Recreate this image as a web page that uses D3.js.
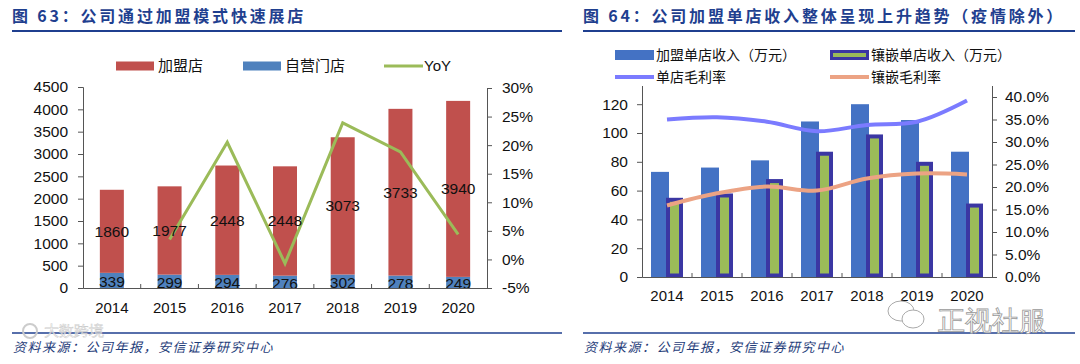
<!DOCTYPE html>
<html><head><meta charset="utf-8">
<script src="https://cdn.jsdelivr.net/npm/d3@7"></script>
<style>
body{margin:0;background:#fff}
svg{display:block}
text{font-family:"Liberation Sans",Arial,sans-serif}
.cjk{font-family:"Noto Sans CJK SC","Noto Sans",sans-serif}
</style>
</head><body><svg id="c" width="1080" height="364"></svg>
<script>
// ---------- data: left chart ----------
const years = ["2014","2015","2016","2017","2018","2019","2020"];
const franchiseStores = [1860,1977,2448,2448,3073,3733,3940];
const ownStores = [339,299,294,276,302,278,249];
const storeYoY = [null,3.5,20.5,-0.7,23.9,18.8,4.4];
const storeTicks = [0,500,1000,1500,2000,2500,3000,3500,4000,4500];
const yoyTicks = [-5,0,5,10,15,20,25,30];
const leftLegend = ["加盟店","自营门店","YoY"];

// ---------- data: right chart ----------
const franchiseRevenue = [73,76,81,108,120,109,87];
const inlayRevenue = [55,58,68,87,99,80,51];
const storeMargin = [35.0,35.5,34.5,32.4,33.8,34.5,39.2];
const inlayMargin = [15.9,18.6,20.1,19.2,21.9,23.0,22.8];
const revenueTicks = [0,20,40,60,80,100,120,140];
const marginTicks = [0,5,10,15,20,25,30,35,40,45];
const rightLegend = ["加盟单店收入（万元）","镶嵌单店收入（万元）","单店毛利率","镶嵌毛利率"];

const titleLeft = "图 63：公司通过加盟模式快速展店";
const titleRight = "图 64：公司加盟单店收入整体呈现上升趋势（疫情除外）";
const source = "资料来源：公司年报，安信证券研究中心";

const C = {red:"#c0504d", blue:"#4f81bd", green:"#9bbb59", navy:"#1f3f8f",
  bar2:"#4472c4", border:"#3b37a3", lav:"#7b7bff", salmon:"#eca384", axis:"#555"};

const svg = d3.select("#c");

function header(x, x2, t){
  svg.append("text").attr("class","cjk").attr("x",x).attr("y",22)
    .attr("font-size",16).attr("font-weight","bold").attr("letter-spacing",2.8)
    .attr("fill",C.navy).text(t);
  svg.append("line").attr("x1",x).attr("x2",x2).attr("y1",31).attr("y2",31)
    .attr("stroke",C.navy).attr("stroke-width",2);
  svg.append("line").attr("x1",x).attr("x2",x2).attr("y1",333).attr("y2",333)
    .attr("stroke",C.navy).attr("stroke-width",1.5);
  svg.append("text").attr("class","cjk").attr("x",x+1).attr("y",352)
    .attr("font-size",13).attr("font-style","italic").attr("letter-spacing",1.5)
    .attr("fill","#1f3d7a").text(source);
}
header(12, 562, titleLeft);
header(583, 1075, titleRight);

function styleAxis(g, size){
  g.select(".domain").attr("stroke",C.axis);
  g.selectAll(".tick line").attr("stroke",C.axis);
  g.selectAll("text").attr("font-size",size).attr("fill","#111")
    .attr("font-family","'Liberation Sans',Arial,sans-serif");
}

// ================= LEFT CHART =================
{
  const x = d3.scaleBand().domain(years).range([83,487]);
  const y = d3.scaleLinear().domain([0,4500]).range([288,87]);
  const yr = d3.scaleLinear().domain([-5,30]).range([288,88]);
  const bw = 24;

  const g = svg.append("g");
  years.forEach((yr_,i)=>{
    const cx = x(yr_) + x.bandwidth()/2;
    g.append("rect").attr("x",cx-bw/2).attr("width",bw)
      .attr("y",y(ownStores[i])).attr("height",y(0)-y(ownStores[i])).attr("fill",C.blue);
    g.append("rect").attr("x",cx-bw/2).attr("width",bw)
      .attr("y",y(ownStores[i]+franchiseStores[i]))
      .attr("height",y(ownStores[i])-y(ownStores[i]+franchiseStores[i])).attr("fill",C.red);
  });

  const ax = svg.append("g").attr("transform","translate(83,0)")
    .call(d3.axisLeft(y).tickValues(storeTicks).tickSize(5).tickPadding(10).tickFormat(d3.format("d")));
  styleAxis(ax,15.5);
  const axr = svg.append("g").attr("transform","translate(487,0)")
    .call(d3.axisRight(yr).tickValues(yoyTicks).tickSize(5).tickPadding(10).tickFormat(d=>d+"%"));
  styleAxis(axr,15.5);
  const axb = svg.append("g").attr("transform","translate(0,288)")
    .call(d3.axisBottom(x).tickSize(0).tickPadding(14).tickSizeOuter(0));
  styleAxis(axb,15);
  axb.selectAll(".bt").data(years.slice(1)).enter().append("line")
    .attr("x1",d=>x(d)).attr("x2",d=>x(d)).attr("y1",0).attr("y2",-4).attr("stroke",C.axis);

  const line = d3.line().defined(d=>d[1]!=null)
    .x(d=>x(d[0])+x.bandwidth()/2).y(d=>yr(d[1]));
  g.append("path").datum(years.map((d,i)=>[d,storeYoY[i]]))
    .attr("d",line).attr("fill","none").attr("stroke",C.green).attr("stroke-width",3);

  years.forEach((yr_,i)=>{
    const cx = x(yr_) + x.bandwidth()/2;
    g.append("text").attr("x",cx).attr("y",y(ownStores[i]+franchiseStores[i]/2)).attr("dy","0.35em")
      .attr("text-anchor","middle").attr("font-size",15.5).attr("fill","#111").text(franchiseStores[i]);
    g.append("text").attr("x",cx).attr("y",y(ownStores[i]/2)+1.5).attr("dy","0.35em")
      .attr("text-anchor","middle").attr("font-size",15.5).attr("fill","#111").text(ownStores[i]);
  });

  const lg = svg.append("g").attr("transform","translate(0,66)");
  const items = [{x:116,c:C.red,t:"rect"},{x:243,c:C.blue,t:"rect"},{x:384,c:C.green,t:"line"}];
  items.forEach((it,i)=>{
    if(it.t==="rect") lg.append("rect").attr("x",it.x).attr("y",-4.5).attr("width",38).attr("height",9).attr("fill",it.c);
    else lg.append("line").attr("x1",it.x).attr("x2",it.x+39).attr("y1",0).attr("y2",0).attr("stroke",it.c).attr("stroke-width",3);
    lg.append("text").attr("class",i<2?"cjk":"").attr("x",it.x+(it.t==="rect"?42:40)).attr("y",0).attr("dy","0.36em")
      .attr("font-size",15).attr("fill","#111").text(leftLegend[i]);
  });
}

// ================= RIGHT CHART =================
{
  const x = d3.scaleBand().domain(years).range([642,992]);
  const y = d3.scaleLinear().domain([0,140]).range([277,75.4]);
  const yr = d3.scaleLinear().domain([0,45]).range([277,74.5]);
  const g = svg.append("g");

  years.forEach((d,i)=>{
    const x0 = x(d);
    g.append("rect").attr("x",x0+9).attr("width",18)
      .attr("y",y(franchiseRevenue[i])).attr("height",y(0)-y(franchiseRevenue[i])).attr("fill",C.bar2);
  });
  years.forEach((d,i)=>{
    const x0 = x(d);
    g.append("rect").attr("x",x0+26).attr("width",13)
      .attr("y",y(inlayRevenue[i])+2).attr("height",y(0)-y(inlayRevenue[i])-3.5)
      .attr("fill",C.green).attr("stroke",C.border).attr("stroke-width",4);
  });

  const ax = svg.append("g").attr("transform","translate(642,0)")
    .call(d3.axisLeft(y).tickValues(revenueTicks).tickSize(5).tickPadding(9));
  styleAxis(ax,15.5);
  const axr = svg.append("g").attr("transform","translate(992,0)")
    .call(d3.axisRight(yr).tickValues(marginTicks).tickSize(5).tickPadding(8).tickFormat(d=>d.toFixed(1)+"%"));
  styleAxis(axr,15.5);
  const axb = svg.append("g").attr("transform","translate(0,277)")
    .call(d3.axisBottom(x).tickSize(0).tickPadding(13).tickSizeOuter(0));
  styleAxis(axb,15);
  axb.selectAll(".bt").data(years.slice(1)).enter().append("line")
    .attr("x1",d=>x(d)).attr("x2",d=>x(d)).attr("y1",0).attr("y2",-4).attr("stroke",C.axis);

  const mk = arr => d3.line().curve(d3.curveCatmullRom.alpha(0.5))
    .x(d=>x(d[0])+x.bandwidth()/2).y(d=>yr(d[1]))(years.map((d,i)=>[d,arr[i]]));
  g.append("path").attr("d",mk(storeMargin)).attr("fill","none").attr("stroke",C.lav).attr("stroke-width",4);
  g.append("path").attr("d",mk(inlayMargin)).attr("fill","none").attr("stroke",C.salmon).attr("stroke-width",4);

  const lg = svg.append("g");
  lg.append("rect").attr("x",598).attr("y",40).attr("width",454).attr("height",46).attr("fill","#fff");
  const rows = [
    {x:615,y:55,t:"bar",c:C.bar2},{x:830,y:55,t:"bar2",c:C.green},
    {x:615,y:77,t:"line",c:C.lav},{x:830,y:77,t:"line",c:C.salmon}];
  rows.forEach((r,i)=>{
    if(r.t==="bar") lg.append("rect").attr("x",r.x).attr("y",r.y-5).attr("width",39).attr("height",10).attr("fill",r.c);
    else if(r.t==="bar2") lg.append("rect").attr("x",r.x+1.5).attr("y",r.y-3.5).attr("width",36).attr("height",7)
      .attr("fill",r.c).attr("stroke",C.border).attr("stroke-width",3);
    else lg.append("line").attr("x1",r.x).attr("x2",r.x+39).attr("y1",r.y).attr("y2",r.y).attr("stroke",r.c).attr("stroke-width",4);
    lg.append("text").attr("class","cjk").attr("x",r.x+41).attr("y",r.y).attr("dy","0.36em")
      .attr("font-size",14).attr("fill","#111").text(rightLegend[i]);
  });
}

// watermarks
{
  const w = svg.append("g").attr("class","cjk");
  w.append("ellipse").attr("cx",901).attr("cy",311).attr("rx",13).attr("ry",10).attr("fill","#fff").attr("stroke","#aaa");
  w.append("ellipse").attr("cx",913).attr("cy",319).attr("rx",11).attr("ry",9).attr("fill","#fff").attr("stroke","#aaa");
  w.append("text").attr("x",938).attr("y",330).attr("font-size",27).attr("font-weight",300)
    .attr("fill","#fff").attr("stroke","#999").attr("stroke-width",0.8).text("正视社服");
  w.append("circle").attr("cx",30).attr("cy",331).attr("r",7).attr("fill","none").attr("stroke","#ccc").attr("stroke-width",2);
  w.append("text").attr("x",44).attr("y",336).attr("font-size",15)
    .attr("fill","#fff").attr("fill-opacity",0.6).attr("stroke","#ccc").attr("stroke-width",0.5).text("大数跨境");
}
</script>
</body></html>
